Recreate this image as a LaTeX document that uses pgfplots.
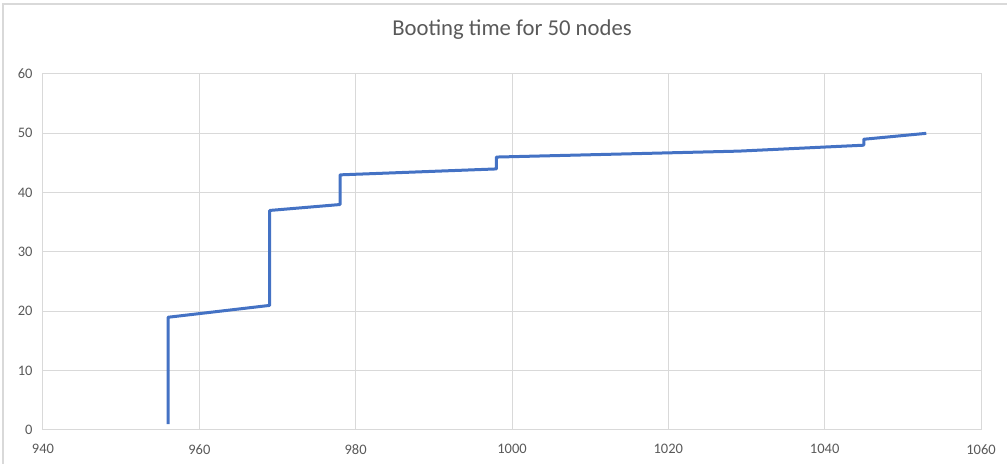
\documentclass[border=0pt]{standalone}
\usepackage{fontspec}
\setmainfont{Carlito}
\usepackage{pgfplots}
\pgfplotsset{compat=1.18}
\definecolor{linec}{HTML}{4472C4}
\definecolor{gridc}{HTML}{D9D9D9}
\definecolor{textc}{HTML}{595959}
\begin{document}
\begin{tikzpicture}
\begin{axis}[
  name=ax,
  scale only axis,
  width=938pt, height=356pt,
  xmin=940, xmax=1060, ymin=0, ymax=60,
  xtick distance=20, ytick distance=10,
  grid=major,
  major grid style={gridc, line width=1pt},
  axis line style={gridc, line width=1pt},
  major tick length=0pt,
  /pgf/number format/assume math mode=true,
  /pgf/number format/1000 sep={},
  tick label style={font=\fontsize{14.5}{17}\selectfont, text=textc},
  xticklabel style={yshift=-11pt},
  yticklabel style={xshift=-7pt},
  clip=false,
]
\addplot[linec, line width=3pt, line join=round] coordinates {
  (956,1) (956,19) (969,21) (969,37) (978,38) (978,43)
  (998,44) (998,46) (1029,47) (1045,48) (1045,49) (1053,50)
};
\end{axis}
\path[use as bounding box] ([xshift=-43pt,yshift=-34pt]ax.south west) rectangle ([xshift=26pt,yshift=74pt]ax.north east);
\draw[gridc, line width=1.2pt] ([xshift=-40pt,yshift=-36pt]ax.south west) -- ([xshift=-40pt,yshift=70pt]ax.north west) -- ([xshift=28pt,yshift=70pt]ax.north east);
\node[font=\fontsize{22.7}{27}\selectfont, text=textc] at ([yshift=44pt]ax.north) {Booting time for 50 nodes};
\end{tikzpicture}
\end{document}
